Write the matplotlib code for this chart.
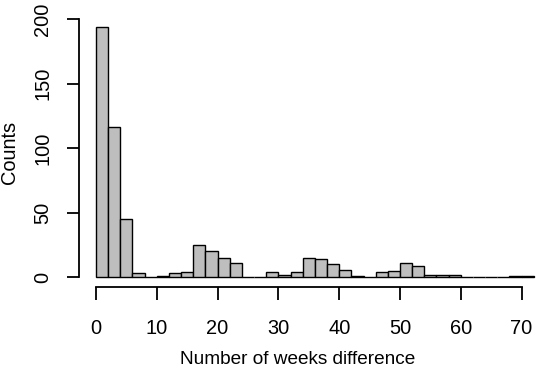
import numpy as np
import matplotlib
matplotlib.use("Agg")
import matplotlib.pyplot as plt

# ---------- Datos: histograma (bins de 2 semanas) ----------
bin_edges = list(range(0, 74, 2))
counts = [194, 116, 45, 3, 0, 1, 3, 4, 25, 20, 15, 11, 0, 0, 4, 2, 4, 15,
          14, 10, 6, 1, 0, 4, 5, 11, 9, 2, 2, 2, 0, 0, 0, 0, 1, 1]
x_ticks = [0, 10, 20, 30, 40, 50, 60, 70]
y_ticks = [0, 50, 100, 150, 200]

plt.rcParams['font.family'] = ['Liberation Sans', 'DejaVu Sans']

W, H = 536, 368
fig = plt.figure(figsize=(W / 100, H / 100), dpi=100)

# estilo R: xaxs="r" (4% extra a cada lado), la region sale por la derecha
xlim = (-2.88, 74.88)
ylim = (-0.04 * max(counts), 1.04 * max(counts))
px_x = 6.08
left = 78.5
bottom = 287.3
top = 16.7
ax = fig.add_axes([left / W, (H - bottom) / H,
                   (xlim[1] - xlim[0]) * px_x / W, (bottom - top) / H])

ax.bar(bin_edges[:-1], counts, width=2, align='edge',
       color='#BEBEBE', edgecolor='black', linewidth=1.0)

ax.set_xlim(*xlim)
ax.set_ylim(*ylim)
ax.set_xticks(x_ticks)
ax.set_yticks(y_ticks)

for s in ('top', 'right'):
    ax.spines[s].set_visible(False)
ax.spines['left'].set_bounds(0, 200)
ax.spines['bottom'].set_bounds(0, 70)
for s in ('left', 'bottom'):
    ax.spines[s].set_linewidth(1.3)

ax.tick_params(axis='both', length=9, width=1.3, labelsize=14.4)
ax.tick_params(axis='x', pad=14)
ax.tick_params(axis='y', pad=10, labelrotation=90)
for lab in ax.get_yticklabels():
    lab.set_va('center')

# etiqueta x centrada en la parte visible de la figura
fig.text(298 / W, (H - 364.3) / H, "Number of weeks difference",
         fontsize=13.7, ha='center', va='baseline')
ax.set_ylabel("Counts", fontsize=14.4, labelpad=10)

fig.savefig('out.png', dpi=100)
